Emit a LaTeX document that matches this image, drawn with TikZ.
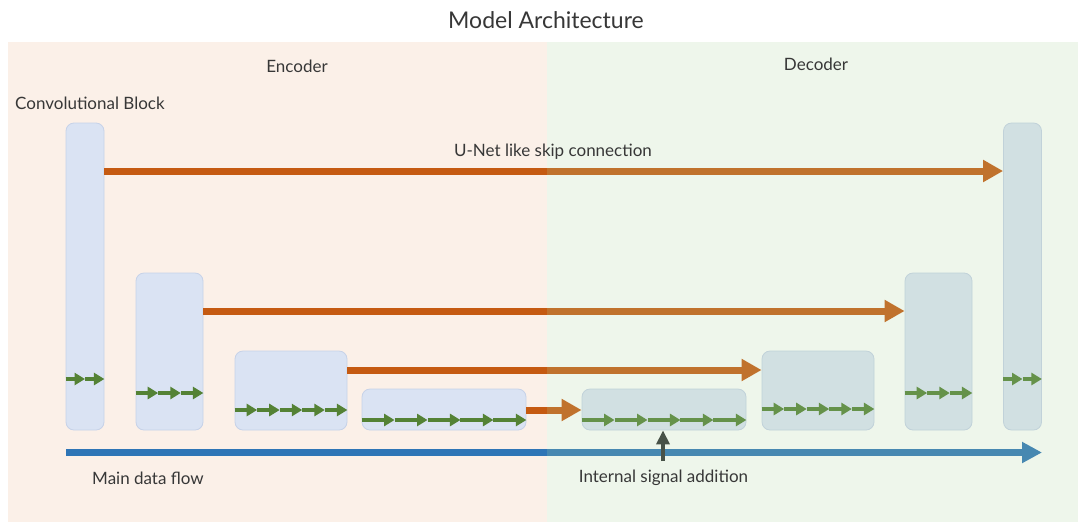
\documentclass[tikz,border=0pt]{standalone}
\usepackage{fontspec}
\setmainfont{Lato}
\usetikzlibrary{arrows.meta,calc}
\definecolor{encbg}{RGB}{251,240,232}
\definecolor{decov}{RGB}{173,212,158}
\definecolor{blockfill}{RGB}{218,227,243}
\definecolor{blockline}{RGB}{198,210,232}
\definecolor{skipor}{RGB}{197,90,17}
\definecolor{flowblue}{RGB}{46,117,182}
\definecolor{convgreen}{RGB}{84,130,53}
\definecolor{addgray}{RGB}{72,82,72}
\definecolor{txt}{RGB}{55,55,55}
\newcommand{\convchain}[3]{%
  \foreach \i in {1,...,#3}{%
    \draw[conv] ($(#1.west |- 0,#2)!{(\i-1)/#3}!(#1.east |- 0,#2)$) -- ($(#1.west |- 0,#2)!{\i/#3}!(#1.east |- 0,#2)$);
  }}
\begin{document}
\begin{tikzpicture}[x=1pt,y=-1pt,
  block/.style={draw=blockline, line width=0.8pt, fill=blockfill, rounded corners=8pt, inner sep=0pt},
  region/.style={draw=none, inner sep=0pt, anchor=north west},
  skip/.style={draw=skipor, line width=7pt, -{Triangle[length=20pt,width=21pt]}},
  flow/.style={draw=flowblue, line width=6.5pt, -{Triangle[length=20pt,width=20pt]}},
  conv/.style={draw=convgreen, line width=3.5pt, -{Triangle[length=10.5pt,width=12pt]}},
  addarrow/.style={draw=addgray, line width=4.5pt, -{Triangle[length=14pt,width=13pt]}},
  lbl/.style={text=txt, font=\fontsize{17}{20}\selectfont, inner sep=0pt}]
\useasboundingbox (0,0) rectangle (1078,523);
\fill[white] (0,0) rectangle (1078,523);
% encoder background
\node[region, fill=encbg, minimum width=539pt, minimum height=480pt] (enc) at (8,42) {};
% blocks
\node[block, minimum width=38pt, minimum height=307pt] (e1) at (85,276.5) {};
\node[block, minimum width=67pt, minimum height=157pt] (e2) at (169.5,351.5) {};
\node[block, minimum width=112pt, minimum height=79pt] (e3) at (291,390.5) {};
\node[block, minimum width=164pt, minimum height=41pt] (e4) at (444,409.5) {};
\node[block, minimum width=164pt, minimum height=41pt] (d4) at (664,409.5) {};
\node[block, minimum width=112pt, minimum height=79pt] (d3) at (818,390.5) {};
\node[block, minimum width=67pt, minimum height=157pt] (d2) at (938.5,351.5) {};
\node[block, minimum width=38pt, minimum height=307pt] (d1) at (1022.5,276.5) {};
% skip connections
\draw[skip] (e1.east |- 0,171) -- (d1.west |- 0,171);
\draw[skip] (e2.east |- 0,311) -- (d2.west |- 0,311);
\draw[skip] (e3.east |- 0,370) -- (d3.west |- 0,370);
\draw[skip] (e4.east |- 0,410) -- (d4.west |- 0,410);
% conv chains
\convchain{e1}{379}{2}
\convchain{e2}{393}{3}
\convchain{e3}{410}{5}
\convchain{e4}{420}{5}
\convchain{d4}{420}{5}
\convchain{d3}{409}{5}
\convchain{d2}{393}{3}
\convchain{d1}{379}{2}
% main data flow
\coordinate (flowstart) at (66,452.5);
\coordinate (flowend) at (1042,452.5);
\draw[flow] (flowstart) -- (flowend);
% decoder overlay
\node[region, fill=decov, fill opacity=0.2, minimum width=531pt, minimum height=480pt] (dec) at (547,42) {};
% internal signal addition
\coordinate (addstart) at (663,461);
\draw[addarrow] (addstart) -- (d4.south -| addstart);
% title and labels
\node[lbl, font=\fontsize{23}{26}\selectfont] (title) at (546,20) {Model Architecture};
\node[lbl] (enclbl) at (297,66) {Encoder};
\node[lbl] (declbl) at (816,64) {Decoder};
\node[lbl, anchor=west] (convlbl) at (15,103) {Convolutional Block};
\node[lbl] (skiplbl) at (553,152) {U-Net like skip connection};
\node[lbl, anchor=west] (flowlbl) at (92,478) {Main data flow};
\node[lbl] (addlbl) at (663.5,478) {Internal signal addition};
\end{tikzpicture}
\end{document}
